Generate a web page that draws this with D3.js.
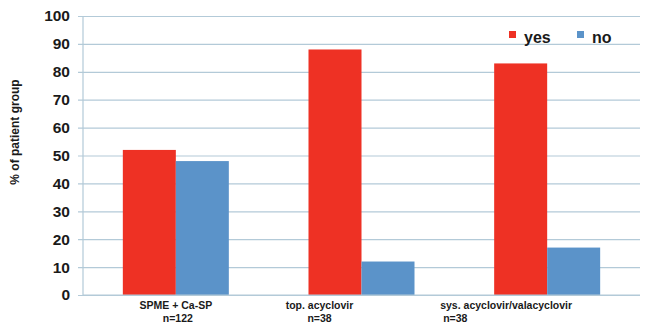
<!DOCTYPE html>
<html>
<head>
<meta charset="utf-8">
<script src="https://cdn.jsdelivr.net/npm/d3@7"></script>
<style>
  html, body { margin: 0; padding: 0; background: #fff; }
  svg { display: block; font-family: "Liberation Sans", Arial, sans-serif; font-weight: bold; }
</style>
</head>
<body>
<svg id="chart" width="656" height="327"></svg>
<script>
// Treatment groups (two-line labels) and the share of patients per answer
const groups = ["SPME + Ca-SP", "top. acyclovir", "sys. acyclovir/valacyclovir"];
const groupSizes = ["n=122", "n=38", "n=38"];
const seriesNames = ["yes", "no"];
const yesValues = [52, 88, 83];
const noValues = [48, 12, 17];
const yTicks = [0, 10, 20, 30, 40, 50, 60, 70, 80, 90, 100];
const yTitle = "% of patient group";

const colors = { yes: "#ee3124", no: "#5b93c9" };
const gridColor = "#b3cad8";

const svg = d3.select("#chart");
const plot = { left: 83, right: 640, top: 16, bottom: 295 };

const x0 = d3.scaleBand().domain(groups).range([plot.left, plot.right]).paddingInner(0).paddingOuter(0);
const groupWidth = 106;
const x1 = d3.scaleBand().domain(seriesNames).range([0, groupWidth]).padding(0);
const y = d3.scaleLinear().domain([0, 100]).range([plot.bottom, plot.top]);

// horizontal gridlines with short outward ticks
const yAxis = d3.axisLeft(y).tickValues(yTicks).tickSize(-(plot.right - plot.left)).tickPadding(13).tickFormat(d3.format("d"));
const gy = svg.append("g").attr("transform", `translate(${plot.left},0)`).call(yAxis);
gy.select(".domain").remove();
gy.selectAll(".tick line").attr("stroke", gridColor).attr("stroke-width", 1.2).attr("x1", -5);
gy.selectAll(".tick text").attr("fill", "#1a1a1a").style("font-size", "15.5px").style("font-weight", "bold")
  .style("font-family", "'Liberation Sans', Arial, sans-serif");

// vertical axis line
svg.append("line").attr("x1", plot.left).attr("x2", plot.left).attr("y1", plot.top).attr("y2", plot.bottom)
  .attr("stroke", gridColor).attr("stroke-width", 1.2);

// bars
const rows = groups.map((g, i) => ({ group: g, values: [
  { key: "yes", value: yesValues[i] }, { key: "no", value: noValues[i] } ] }));

const gGroups = svg.append("g").selectAll("g").data(rows).join("g")
  .attr("transform", d => `translate(${x0(d.group) + (x0.bandwidth() - groupWidth) / 2},0)`);
gGroups.selectAll("rect").data(d => d.values).join("rect")
  .attr("x", d => x1(d.key))
  .attr("width", x1.bandwidth())
  .attr("y", d => y(d.value))
  .attr("height", d => y(0) - y(d.value))
  .attr("fill", d => colors[d.key]);

// baseline
svg.append("line").attr("x1", plot.left).attr("x2", plot.right).attr("y1", plot.bottom).attr("y2", plot.bottom)
  .attr("stroke", gridColor).attr("stroke-width", 1.2);

// category labels (second line carries the group size)
const labelShift = [0, -42, -41];
const sizeShift = [2, -42, -104];
const sizeAnchor = ["middle", "middle", "start"];
groups.forEach((g, i) => {
  const cx = x0(g) + x0.bandwidth() / 2;
  svg.append("text").attr("x", cx + labelShift[i]).attr("y", 309)
    .attr("text-anchor", "middle").style("font-size", "10.5px").attr("fill", "#1a1a1a").text(g);
  svg.append("text").attr("x", cx + sizeShift[i]).attr("y", 322)
    .attr("text-anchor", sizeAnchor[i]).style("font-size", "10.5px").attr("fill", "#1a1a1a").text(groupSizes[i]);
});

// y-axis title
svg.append("text").attr("transform", `translate(19,132) rotate(-90)`)
  .attr("text-anchor", "middle").style("font-size", "12px").attr("fill", "#1a1a1a").text(yTitle);

// legend
const legendX = [509, 577];
seriesNames.forEach((s, i) => {
  svg.append("rect").attr("x", legendX[i]).attr("y", 31).attr("width", 7).attr("height", 7).attr("fill", colors[s]);
  svg.append("text").attr("x", legendX[i] + 15).attr("y", 43).style("font-size", "16px").attr("fill", "#1a1a1a").text(s);
});
</script>
</body>
</html>
